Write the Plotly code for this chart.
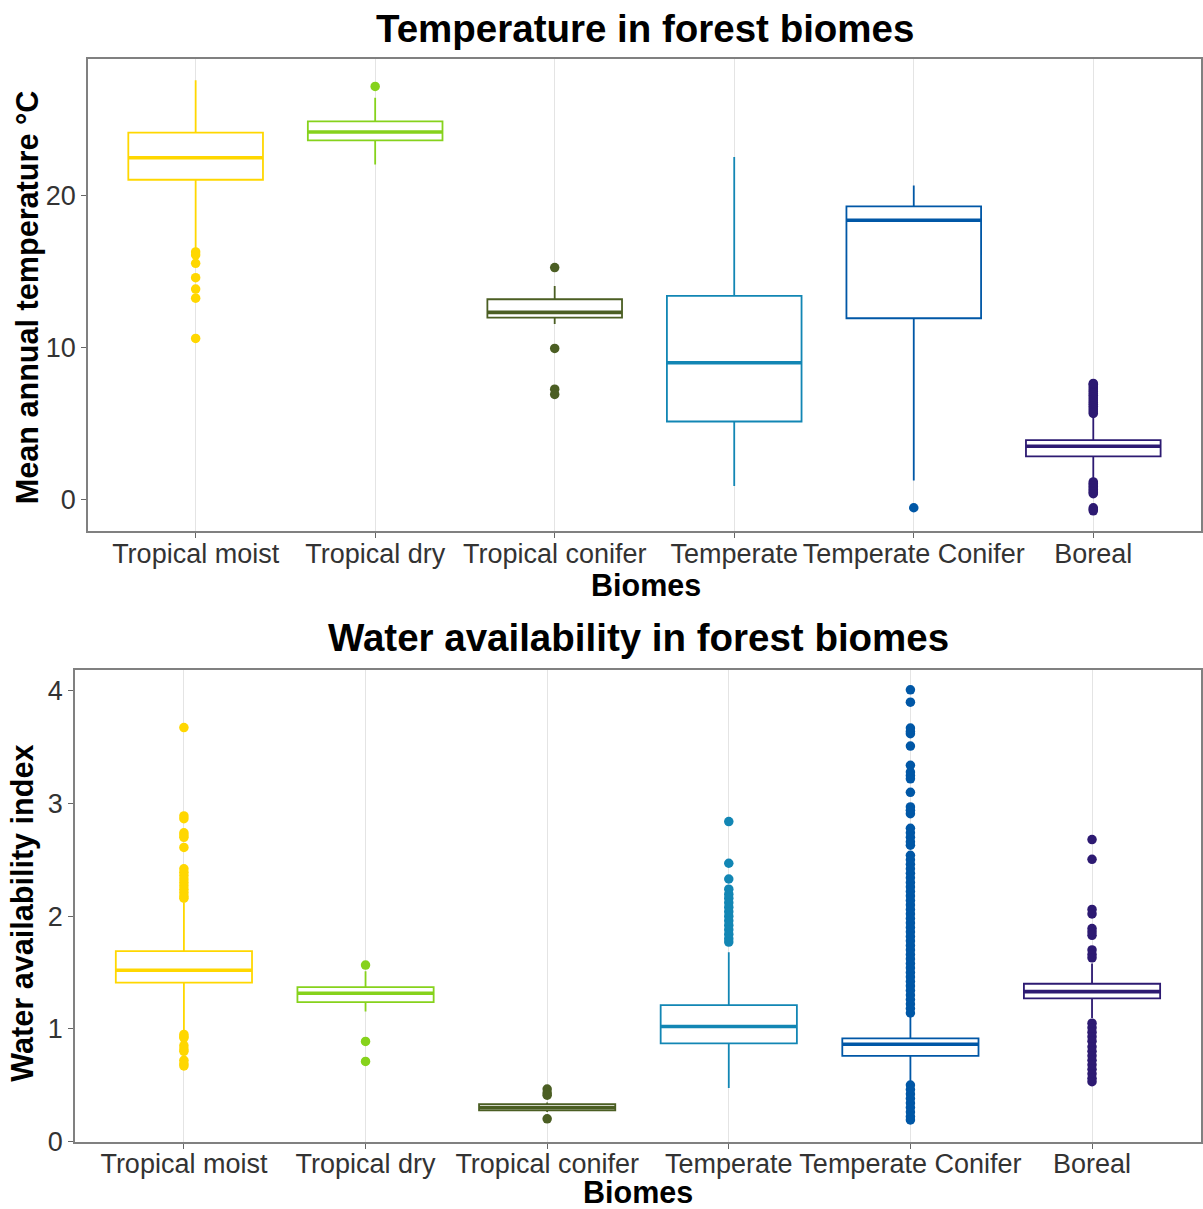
import plotly.graph_objects as go

biomes = ["Tropical moist", "Tropical dry", "Tropical conifer", "Temperate", "Temperate Conifer", "Boreal"]
colors = ["#FFD700", "#86D21C", "#4B5E23", "#1286B4", "#0057A6", "#2D1A72"]

# ---- Temperature panel (box statistics) ----
temp_q1 = [21.05, 23.65, 11.97, 5.13, 11.93, 2.84]
temp_med = [22.5, 24.2, 12.32, 9.0, 18.38, 3.5]
temp_q3 = [24.16, 24.9, 13.18, 13.4, 19.3, 3.9]
temp_lf = [16.5, 22.05, 11.55, 0.88, 1.25, 1.25]
temp_uf = [27.6, 26.45, 14.06, 22.55, 20.68, 5.5]
temp_out = [
    [16.3, 16.1, 15.55, 14.6, 13.85, 13.25, 10.6],
    [27.2],
    [15.27, 9.94, 7.26, 6.91],
    [],
    [-0.55],
    [5.66, 5.78, 5.9, 6.02, 6.14, 6.26, 6.38, 6.5, 6.62, 6.74, 6.86, 6.98, 7.1, 7.22,
     7.34, 7.46, 7.58, 7.64,
     1.15, 1.05, 0.95, 0.85, 0.75, 0.65, 0.55, 0.45, 0.38, -0.55, -0.65, -0.75],
]

# ---- Water availability panel ----
water_q1 = [1.41, 1.236, 0.275, 0.87, 0.76, 1.27]
water_med = [1.52, 1.316, 0.30, 1.02, 0.862, 1.33]
water_q3 = [1.69, 1.369, 0.33, 1.21, 0.914, 1.40]
water_lf = [0.99, 1.153, 0.26, 0.474, 0.536, 1.095]
water_uf = [2.12, 1.51, 0.345, 1.68, 1.125, 1.58]
water_out = [
    [3.675, 2.89, 2.865, 2.74, 2.72, 2.70, 2.61, 2.42, 2.39, 2.36, 2.33, 2.30, 2.27,
     2.24, 2.21, 2.18, 2.16, 0.95, 0.93, 0.92, 0.85, 0.82, 0.80, 0.72, 0.69, 0.67],
    [1.566, 0.888, 0.71],
    [0.465, 0.43, 0.41, 0.20],
    [2.84, 2.47, 2.33, 2.24, 2.195, 2.16, 2.12, 2.08, 2.04, 2.0, 1.96, 1.92, 1.88,
     1.84, 1.8, 1.77],
    [4.01, 3.90, 3.67, 3.64, 3.62, 3.51, 3.34, 3.28, 3.25, 3.22, 3.10, 2.97, 2.94,
     2.91, 2.78, 2.74, 2.70, 2.66, 2.63, 2.54, 2.50, 2.46, 2.42, 2.38, 2.34, 2.30,
     2.26, 2.22, 2.18, 2.14, 2.10, 2.06, 2.02, 1.98, 1.94, 1.90, 1.86, 1.82, 1.78,
     1.74, 1.70, 1.66, 1.62, 1.58, 1.54, 1.50, 1.46, 1.42, 1.38, 1.34, 1.30, 1.26,
     1.22, 1.18, 1.14, 0.50, 0.46, 0.42, 0.38, 0.34, 0.30, 0.26, 0.22, 0.19],
    [2.68, 2.505, 2.06, 2.02, 1.89, 1.86, 1.83, 1.70, 1.66, 1.63,
     1.05, 1.01, 0.97, 0.93, 0.89, 0.84, 0.80, 0.76, 0.72, 0.68, 0.64, 0.60, 0.56, 0.53],
]

FONT = "Liberation Sans, Arial, Helvetica, sans-serif"
fig = go.Figure()


def add_panel(xa, ya, q1, med, q3, lf, uf, outs):
    for i, b in enumerate(biomes):
        c = colors[i]
        fig.add_trace(go.Box(
            x=[b], q1=[q1[i]], median=[med[i]], q3=[q3[i]],
            lowerfence=[lf[i]], upperfence=[uf[i]],
            width=0.75, whiskerwidth=0, fillcolor="white",
            line=dict(color=c, width=1.8), boxpoints=False,
            xaxis=xa, yaxis=ya, showlegend=False, hoverinfo="skip"))
        # thicker median bar (ggplot style)
        fig.add_trace(go.Box(
            x=[b], q1=[med[i]], median=[med[i]], q3=[med[i]],
            lowerfence=[med[i]], upperfence=[med[i]],
            width=0.75, whiskerwidth=0, fillcolor="white",
            line=dict(color=c, width=3.6), boxpoints=False,
            xaxis=xa, yaxis=ya, showlegend=False, hoverinfo="skip"))
        if outs[i]:
            fig.add_trace(go.Scatter(
                x=[b] * len(outs[i]), y=outs[i], mode="markers",
                marker=dict(color=c, size=9.5, line=dict(width=0)),
                xaxis=xa, yaxis=ya, showlegend=False, hoverinfo="skip"))


add_panel("x", "y", temp_q1, temp_med, temp_q3, temp_lf, temp_uf, temp_out)
add_panel("x2", "y2", water_q1, water_med, water_q3, water_lf, water_uf, water_out)

# layout positions are given in reference-picture pixels (1203 x 1209)
REF_W, REF_H = 1203, 1209
W, H = 1203, 1225  # figure height compensates the vertical squeeze seen in the photo


def px(x):
    return min(max(x / REF_W, 0.0), 1.0)


def py(y):
    return min(max(1 - y / REF_H, 0.0), 1.0)


axis_common = dict(
    showline=True, mirror=True, linecolor="#808080", linewidth=1.6,
    ticks="outside", ticklen=5, tickcolor="#666666", tickwidth=1.2,
    tickfont=dict(family=FONT, size=27, color="#333333"), zeroline=False,
)

fig.update_layout(
    width=W, height=H,
    margin=dict(l=0, r=0, t=0, b=0),
    paper_bgcolor="white", plot_bgcolor="white",
    boxmode="overlay",
    xaxis=dict(domain=[px(88), px(1202)], anchor="y", type="category",
               categoryorder="array", categoryarray=biomes, range=[-0.6, 5.6],
               showgrid=True, gridcolor="#e4e4e4", gridwidth=1.2,
               ticklabelstandoff=-8, **axis_common),
    yaxis=dict(domain=[py(531), py(59)], anchor="x", range=[-2.11, 29.0],
               tickvals=[0, 10, 20], showgrid=False, **axis_common),
    xaxis2=dict(domain=[px(75), px(1202)], anchor="y2", type="category",
                categoryorder="array", categoryarray=biomes, range=[-0.6, 5.6],
                showgrid=True, gridcolor="#e4e4e4", gridwidth=1.2,
                ticklabelstandoff=-8, **axis_common),
    yaxis2=dict(domain=[py(1141), py(669)], anchor="x2", range=[-0.005, 4.19],
                tickvals=[0, 1, 2, 3, 4], showgrid=False, **axis_common),
    annotations=[
        dict(text="<b>Temperature in forest biomes</b>", x=px(646), y=py(28),
             xref="paper", yref="paper", showarrow=False, xanchor="center", yanchor="middle",
             font=dict(family=FONT, size=38.5, color="black")),
        dict(text="<b>Water availability in forest biomes</b>", x=px(639), y=py(637),
             xref="paper", yref="paper", showarrow=False, xanchor="center", yanchor="middle",
             font=dict(family=FONT, size=38.5, color="black")),
        dict(text="<b>Biomes</b>", x=px(647), y=py(585),
             xref="paper", yref="paper", showarrow=False, xanchor="center", yanchor="middle",
             font=dict(family=FONT, size=30.5, color="black")),
        dict(text="<b>Biomes</b>", x=px(639), y=py(1191),
             xref="paper", yref="paper", showarrow=False, xanchor="center", yanchor="middle",
             font=dict(family=FONT, size=30.5, color="black")),
        dict(text="<b>Mean annual temperature °C</b>", x=px(27), y=py(297),
             xref="paper", yref="paper", showarrow=False, xanchor="center", yanchor="middle",
             textangle=-90, font=dict(family=FONT, size=30.6, color="black")),
        dict(text="<b>Water availability index</b>", x=px(23), y=py(912),
             xref="paper", yref="paper", showarrow=False, xanchor="center", yanchor="middle",
             textangle=-90, font=dict(family=FONT, size=30.6, color="black")),
    ],
)

# pin the figure to the window's top-left corner (no page margin, no extra page height)
pin = (
    "document.documentElement.style.margin='0';"
    "document.body.style.margin='0';"
    "var g=document.getElementsByClassName('plotly-graph-div');"
    "for(var i=0;i<g.length;i++){g[i].style.position='fixed';"
    "g[i].style.left='0px';g[i].style.top='0px';}"
)
fig.write_html("out.html", config={"displayModeBar": False}, post_script=pin)
